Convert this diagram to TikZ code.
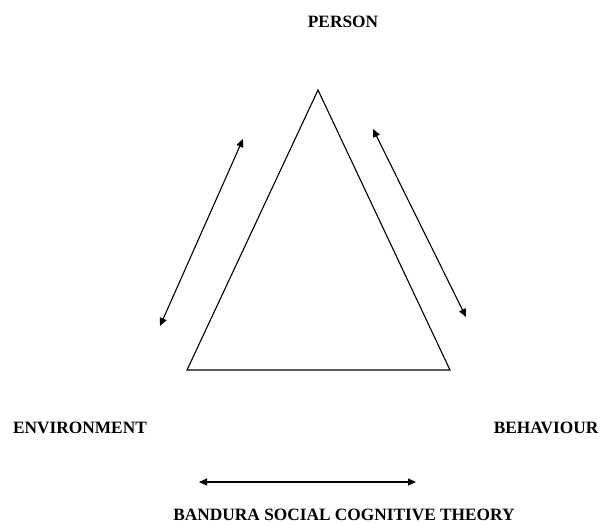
\documentclass[tikz,border=0pt]{standalone}
\usepackage{fontspec}
\setmainfont{Liberation Serif}
\usetikzlibrary{arrows.meta}
\begin{document}
\begin{tikzpicture}[x=1pt,y=-1pt,
  lbl/.style={font=\fontsize{17.3}{19}\selectfont\bfseries, inner sep=0pt, anchor=base},
  tri/.style={line width=1.1pt, line join=miter},
  dbl/.style={line width=1.1pt, {Triangle[length=8pt,width=7pt]}-{Triangle[length=8pt,width=7pt]}}]
\useasboundingbox (0,0) rectangle (601,523);
\coordinate (P) at (318,90);
\coordinate (E) at (187,370);
\coordinate (B) at (450,370);
\draw[tri] (P) -- (B) -- (E) -- cycle;
\coordinate (l1) at (243,139);
\coordinate (l2) at (160,326);
\coordinate (r1) at (373,129);
\coordinate (r2) at (466,317);
\coordinate (b1) at (199,482);
\coordinate (b2) at (416,482);
\draw[dbl] (l1) -- (l2);
\draw[dbl] (r1) -- (r2);
\draw[dbl] (b1) -- (b2);
\node[lbl] (person) at (343,27) {PERSON};
\node[lbl] (env) at (80,433) {ENVIRONMENT};
\node[lbl] (beh) at (546,433) {BEHAVIOUR};
\node[lbl] (title) at (344,520) {BANDURA SOCIAL COGNITIVE THEORY};
\end{tikzpicture}
\end{document}
